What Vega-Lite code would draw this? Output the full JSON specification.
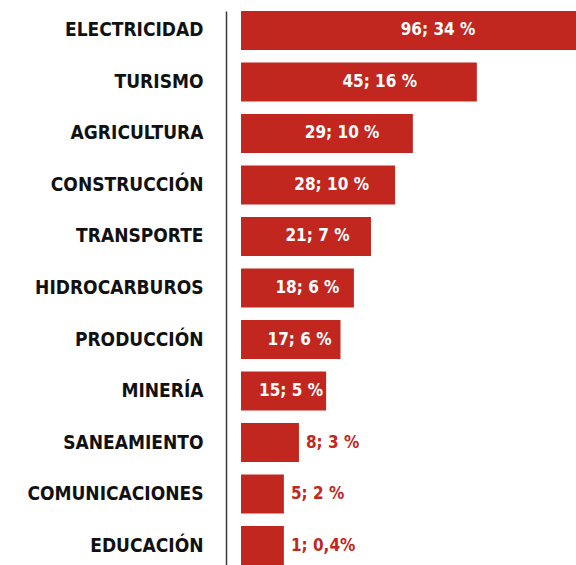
{
  "$schema": "https://vega.github.io/schema/vega-lite/v6.json",
  "autosize": "none",
  "padding": {"left": 241, "top": 11, "right": 0, "bottom": 0},
  "width": 335,
  "height": 554,
  "background": "white",
  "config": {"view": {"stroke": null}},
  "data": {
    "values": [
      {"sector": "ELECTRICIDAD", "proyectos": 96, "porcentaje": 34, "largo": 100, "etiqueta": "96; 34 %"},
      {"sector": "TURISMO", "proyectos": 45, "porcentaje": 16, "largo": 70.4, "etiqueta": "45; 16 %"},
      {"sector": "AGRICULTURA", "proyectos": 29, "porcentaje": 10, "largo": 51.3, "etiqueta": "29; 10 %"},
      {"sector": "CONSTRUCCIÓN", "proyectos": 28, "porcentaje": 10, "largo": 46.0, "etiqueta": "28; 10 %"},
      {"sector": "TRANSPORTE", "proyectos": 21, "porcentaje": 7, "largo": 38.8, "etiqueta": "21; 7 %"},
      {"sector": "HIDROCARBUROS", "proyectos": 18, "porcentaje": 6, "largo": 33.7, "etiqueta": "18; 6 %"},
      {"sector": "PRODUCCIÓN", "proyectos": 17, "porcentaje": 6, "largo": 29.7, "etiqueta": "17; 6 %"},
      {"sector": "MINERÍA", "proyectos": 15, "porcentaje": 5, "largo": 25.4, "etiqueta": "15; 5 %"},
      {"sector": "SANEAMIENTO", "proyectos": 8, "porcentaje": 3, "largo": 17.3, "etiqueta": "8; 3 %"},
      {"sector": "COMUNICACIONES", "proyectos": 5, "porcentaje": 2, "largo": 12.8, "etiqueta": "5; 2 %"},
      {"sector": "EDUCACIÓN", "proyectos": 1, "porcentaje": 0.4, "largo": 12.8, "etiqueta": "1; 0,4%"}
    ]
  },
  "encoding": {
    "y": {
      "field": "sector",
      "type": "nominal",
      "sort": null,
      "scale": {"paddingInner": 0.243, "paddingOuter": 0},
      "axis": {
        "title": null,
        "orient": "left",
        "offset": 15,
        "labelPadding": 23,
        "ticks": false,
        "grid": false,
        "domain": true,
        "domainColor": "#3a3a3a",
        "domainWidth": 1.5,
        "labelFont": "DejaVu Sans Condensed",
        "labelFontSize": 19,
        "labelFontWeight": "bold",
        "labelColor": "#111111",
        "labelAlign": "right",
        "labelBaseline": "middle"
      }
    }
  },
  "layer": [
    {
      "mark": {"type": "bar", "color": "#c1271f"},
      "encoding": {
        "x": {"field": "largo", "type": "quantitative", "scale": {"domain": [0, 100]}, "axis": null}
      }
    },
    {
      "transform": [{"filter": "datum.largo > 20"}],
      "mark": {"type": "text", "align": "center", "baseline": "middle", "color": "white", "font": "DejaVu Sans Condensed", "fontSize": 17, "fontWeight": "bold"},
      "encoding": {
        "x": {"field": "largo", "type": "quantitative", "scale": {"domain": [0, 170]}, "axis": null},
        "text": {"field": "etiqueta"}
      }
    },
    {
      "transform": [{"filter": "datum.largo <= 20"}],
      "mark": {"type": "text", "align": "left", "baseline": "middle", "dx": 7, "color": "#c1271f", "font": "DejaVu Sans Condensed", "fontSize": 17, "fontWeight": "bold"},
      "encoding": {
        "x": {"field": "largo", "type": "quantitative", "scale": {"domain": [0, 100]}, "axis": null},
        "text": {"field": "etiqueta"}
      }
    }
  ],
  "resolve": {"scale": {"x": "independent"}}
}
